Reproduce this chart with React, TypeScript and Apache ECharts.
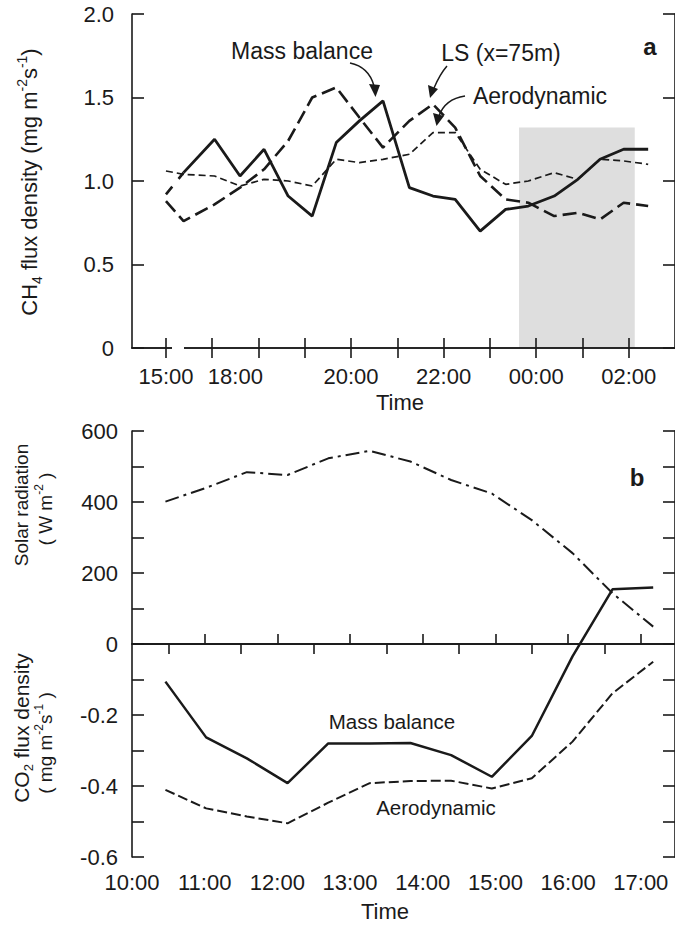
import React, { useEffect, useRef } from "react";
import * as echarts from "echarts";

// ---------- Panel a : CH4 flux density (mg m-2 s-1) ----------
// x positions are in axis units: one unit per tick mark (16 = first tick "15:00", before the axis break)
const timesA = [16.0, 16.38, 17.05, 17.6, 18.12, 18.64, 19.16, 19.68, 20.18, 20.69, 21.26, 21.77, 22.25, 22.79, 23.34, 23.83, 24.39, 24.9, 25.38, 25.89, 26.42];
const massBalanceA = [null, 1.05, 1.25, 1.03, 1.19, 0.91, 0.79, 1.23, 1.36, 1.48, 0.96, 0.91, 0.89, 0.7, 0.83, 0.85, 0.91, 1.01, 1.13, 1.19, 1.19];
const massBalancePreBreak = 0.92; // value plotted before the axis break (first time)
const lsA = [0.88, 0.76, 0.86, 0.96, 1.07, 1.24, 1.5, 1.56, 1.38, 1.2, 1.36, 1.46, 1.32, 1.03, 0.89, 0.87, 0.79, 0.81, 0.77, 0.87, 0.85];
const aeroA = [1.06, 1.04, 1.03, 0.97, 1.01, 1.0, 0.97, 1.13, 1.11, 1.13, 1.16, 1.29, 1.29, 1.07, 0.98, 1.0, 1.05, 1.01, 1.13, 1.12, 1.1];
const tickPosA = [16, 17, 18, 19, 20, 21, 22, 23, 24, 25, 26];
const labelPosA = [16, 17.5, 20, 22, 24, 26];
const labelTextA = ["15:00", "18:00", "20:00", "22:00", "00:00", "02:00"];
const nightShadeA = { from: 23.63, to: 26.13, top: 1.32 };

// ---------- Panel b : solar radiation (W m-2) and CO2 flux density (mg m-2 s-1) ----------
const timesB = [10.46, 11.02, 11.58, 12.14, 12.7, 13.27, 13.83, 14.39, 14.95, 15.5, 16.06, 16.61, 17.17];
const solarB = [401, 440, 484, 476, 523, 544, 514, 462, 424, 349, 256, 143, 49];
const co2MassBalanceB = [-0.106, -0.263, -0.322, -0.392, -0.28, -0.28, -0.279, -0.313, -0.374, -0.259, -0.035, 0.154, 0.159];
const co2AeroB = [-0.411, -0.463, -0.486, -0.505, -0.447, -0.392, -0.386, -0.385, -0.407, -0.378, -0.275, -0.139, -0.05];
const hourLabelsB = [10, 11, 12, 13, 14, 15, 16, 17];
const hourTicksB = [11, 12, 13, 14, 15, 16, 17];
const halfHourTicksB = [10.5, 11.5, 12.5, 13.5, 14.5, 15.5, 16.5];

const FONT = '"Liberation Sans", Arial, Helvetica, sans-serif';
const INK = "#1a1a1a";

const pairs = (xs: number[], ys: (number | null)[]) =>
  xs.map((x, i) => [x, ys[i]]).filter((p) => p[1] !== null);

const lineAxis = { show: true, lineStyle: { color: INK, width: 1.6 } };
const tickStyle = { color: INK, width: 1.6 };
const labelStyle = { color: INK, fontSize: 22, fontFamily: FONT };

function text(x: number, y: number, t: string, fs: number, extra: any = {}) {
  return {
    type: "text",
    x,
    y,
    z: 60,
    ...extra.el,
    style: {
      text: t,
      fontSize: fs,
      fontFamily: FONT,
      fill: INK,
      align: "center",
      verticalAlign: "middle",
      textAlign: "center",
      textVerticalAlign: "middle",
      ...extra.style,
    },
  };
}

function richTitle(x: number, y: number, t: string, fs: number) {
  const small = Math.round(fs * 0.62);
  return text(x, y, t, fs, {
    el: { rotation: Math.PI / 2 },
    style: {
      lineHeight: Math.round(fs * 1.3),
      rich: {
        sub: { fontSize: small, fontFamily: FONT, fill: INK, verticalAlign: "bottom", lineHeight: small },
        sup: { fontSize: small, fontFamily: FONT, fill: INK, verticalAlign: "top", lineHeight: small },
      },
    },
  });
}

export default function App() {
  const ref = useRef<HTMLDivElement>(null);

  useEffect(() => {
    if (!ref.current) return;
    const chart = echarts.init(ref.current, undefined, { renderer: "svg" });

    const option: any = {
      animation: false,
      backgroundColor: "#ffffff",
      textStyle: { fontFamily: FONT },
      grid: [
        { left: 132, top: 14, width: 544, height: 334 },
        { left: 132, top: 431, width: 544, height: 426 },
      ],
      xAxis: [
        {
          gridIndex: 0, type: "value", position: "bottom", min: 15.266, max: 27, z: 5,
          axisLine: lineAxis,
          axisTick: { show: true, inside: true, length: 10, customValues: tickPosA, lineStyle: tickStyle },
          axisLabel: {
            ...labelStyle, margin: 17, customValues: labelPosA,
            formatter: (v: number) => labelTextA[labelPosA.indexOf(v)] ?? "",
          },
          splitLine: { show: false },
        },
        {
          gridIndex: 0, type: "value", position: "top", min: 15.266, max: 27, z: 5,
          axisLine: lineAxis,
          axisTick: { show: true, inside: true, length: 10, customValues: tickPosA, lineStyle: tickStyle },
          axisLabel: { show: false },
          splitLine: { show: false },
        },
        {
          gridIndex: 1, type: "value", position: "bottom", min: 10, max: 17.47, z: 5,
          axisLine: lineAxis,
          axisTick: { show: true, inside: true, length: 10, customValues: hourTicksB, lineStyle: tickStyle },
          axisLabel: {
            ...labelStyle, margin: 14, customValues: hourLabelsB,
            formatter: (v: number) => `${Math.round(v)}:00`,
          },
          splitLine: { show: false },
        },
        {
          gridIndex: 1, type: "value", position: "top", min: 10, max: 17.47, z: 5,
          axisLine: lineAxis,
          axisTick: { show: true, inside: true, length: 10, customValues: halfHourTicksB, lineStyle: tickStyle },
          axisLabel: { show: false },
          splitLine: { show: false },
        },
      ],
      yAxis: [
        {
          gridIndex: 0, type: "value", position: "left", min: 0, max: 2, interval: 0.5, z: 5,
          axisLine: lineAxis,
          axisTick: { show: true, inside: true, length: 12, lineStyle: tickStyle },
          axisLabel: { ...labelStyle, margin: 18, formatter: (v: number) => (v === 0 ? "0" : v.toFixed(1)) },
          splitLine: { show: false },
        },
        {
          gridIndex: 0, type: "value", position: "right", min: 0, max: 2, interval: 0.5, z: 5,
          axisLine: lineAxis,
          axisTick: { show: true, inside: true, length: 12, lineStyle: tickStyle },
          axisLabel: { show: false },
          splitLine: { show: false },
        },
        {
          gridIndex: 1, type: "value", position: "left", min: -600, max: 600, interval: 100, z: 5,
          axisLine: lineAxis,
          axisTick: { show: true, inside: true, length: 12, lineStyle: tickStyle },
          axisLabel: {
            ...labelStyle, margin: 14,
            formatter: (v: number) => (v >= 0 && Math.round(v) % 200 === 0 ? String(Math.round(v)) : ""),
          },
          splitLine: { show: false },
        },
        {
          gridIndex: 1, type: "value", position: "left", min: -0.6, max: 0.6, interval: 0.2, z: 5,
          axisLine: { show: false },
          axisTick: { show: false },
          axisLabel: {
            ...labelStyle, margin: 14,
            formatter: (v: number) => (v < -0.01 ? (Math.round(v * 10) / 10).toFixed(1) : ""),
          },
          splitLine: { show: false },
        },
        {
          gridIndex: 1, type: "value", position: "right", min: -600, max: 600, interval: 100, z: 5,
          axisLine: lineAxis,
          axisTick: { show: true, inside: true, length: 12, lineStyle: tickStyle },
          axisLabel: { show: false },
          splitLine: { show: false },
        },
      ],
      series: [
        {
          name: "night", type: "line", xAxisIndex: 0, yAxisIndex: 0, data: [], silent: true,
          markArea: {
            silent: true,
            itemStyle: { color: "#dedede" },
            data: [[{ xAxis: nightShadeA.from, yAxis: 0 }, { xAxis: nightShadeA.to, yAxis: nightShadeA.top }]],
          },
        },
        {
          name: "Mass balance (break)", type: "line", xAxisIndex: 0, yAxisIndex: 0, symbol: "none",
          data: [[timesA[0], massBalancePreBreak], [timesA[1], massBalanceA[1]]],
          lineStyle: { color: INK, width: 2.6, type: [10, 10] },
        },
        {
          name: "Mass balance", type: "line", xAxisIndex: 0, yAxisIndex: 0, symbol: "none",
          data: pairs(timesA, massBalanceA),
          lineStyle: { color: INK, width: 2.8 },
        },
        {
          name: "LS (x=75m)", type: "line", xAxisIndex: 0, yAxisIndex: 0, symbol: "none",
          data: pairs(timesA, lsA),
          lineStyle: { color: INK, width: 2.6, type: [14, 6] },
        },
        {
          name: "Aerodynamic", type: "line", xAxisIndex: 0, yAxisIndex: 0, symbol: "none",
          data: pairs(timesA, aeroA),
          lineStyle: { color: INK, width: 1.7, type: [7, 4] },
        },
        {
          name: "Solar radiation", type: "line", xAxisIndex: 2, yAxisIndex: 2, symbol: "none",
          data: pairs(timesB, solarB),
          lineStyle: { color: INK, width: 2, type: [14, 5, 3, 5] },
          markLine: {
            silent: true, symbol: ["none", "none"], label: { show: false },
            lineStyle: { color: INK, width: 1.6, type: "solid" },
            data: [{ yAxis: 0 }],
          },
        },
        {
          name: "CO2 Mass balance", type: "line", xAxisIndex: 2, yAxisIndex: 3, symbol: "none",
          data: pairs(timesB, co2MassBalanceB),
          lineStyle: { color: INK, width: 2.5 },
        },
        {
          name: "CO2 Aerodynamic", type: "line", xAxisIndex: 2, yAxisIndex: 3, symbol: "none",
          data: pairs(timesB, co2AeroB),
          lineStyle: { color: INK, width: 2, type: [10, 4] },
        },
      ],
      graphic: [
        // axis break in panel a
        { type: "rect", z: 100, shape: { x: 172, y: 342, width: 12, height: 12 }, style: { fill: "#ffffff" } },
        { type: "rect", z: 100, shape: { x: 172, y: 8, width: 12, height: 12 }, style: { fill: "#ffffff" } },
        // panel a annotations
        text(302, 51, "Mass balance", 23),
        text(501, 53, "LS (x=75m)", 23),
        text(540, 96, "Aerodynamic", 23),
        text(650, 46, "a", 24, { style: { fontWeight: "bold" } }),
        { type: "bezierCurve", z: 60, shape: { x1: 350, y1: 63, cpx1: 369, cpy1: 67, x2: 374, y2: 86 }, style: { stroke: INK, lineWidth: 1.5, fill: null } },
        { type: "polygon", z: 60, shape: { points: [[369, 84], [380, 85], [375.5, 97]] }, style: { fill: INK } },
        { type: "bezierCurve", z: 60, shape: { x1: 447, y1: 66, cpx1: 440, cpy1: 74, x2: 434, y2: 88 }, style: { stroke: INK, lineWidth: 1.5, fill: null } },
        { type: "polygon", z: 60, shape: { points: [[428, 85], [438, 89], [430, 98]] }, style: { fill: INK } },
        { type: "bezierCurve", z: 60, shape: { x1: 465, y1: 96, cpx1: 445, cpy1: 99, x2: 439, y2: 116 }, style: { stroke: INK, lineWidth: 1.5, fill: null } },
        { type: "polygon", z: 60, shape: { points: [[433, 113], [444, 116], [436.5, 126]] }, style: { fill: INK } },
        // panel b annotations
        text(392, 721, "Mass balance", 20.5),
        text(436, 807, "Aerodynamic", 20.5),
        text(637, 477, "b", 24, { style: { fontWeight: "bold" } }),
        // axis titles
        text(400, 402, "Time", 22),
        text(385, 911, "Time", 22),
        richTitle(29, 182, "CH{sub|4} flux density (mg m{sup|-2}s{sup|-1})", 22),
        richTitle(21, 505, "Solar radiation", 19),
        richTitle(45, 509, "( W m{sup|-2} )", 19),
        richTitle(21, 728, "CO{sub|2} flux density", 21),
        richTitle(45, 743, "( mg m{sup|-2}s{sup|-1} )", 19),
      ],
    };

    chart.setOption(option);
    return () => chart.dispose();
  }, []);

  return (
    <div
      ref={ref}
      style={{ position: "absolute", left: 0, top: 0, width: 675, height: 925, background: "#ffffff" }}
    />
  );
}
